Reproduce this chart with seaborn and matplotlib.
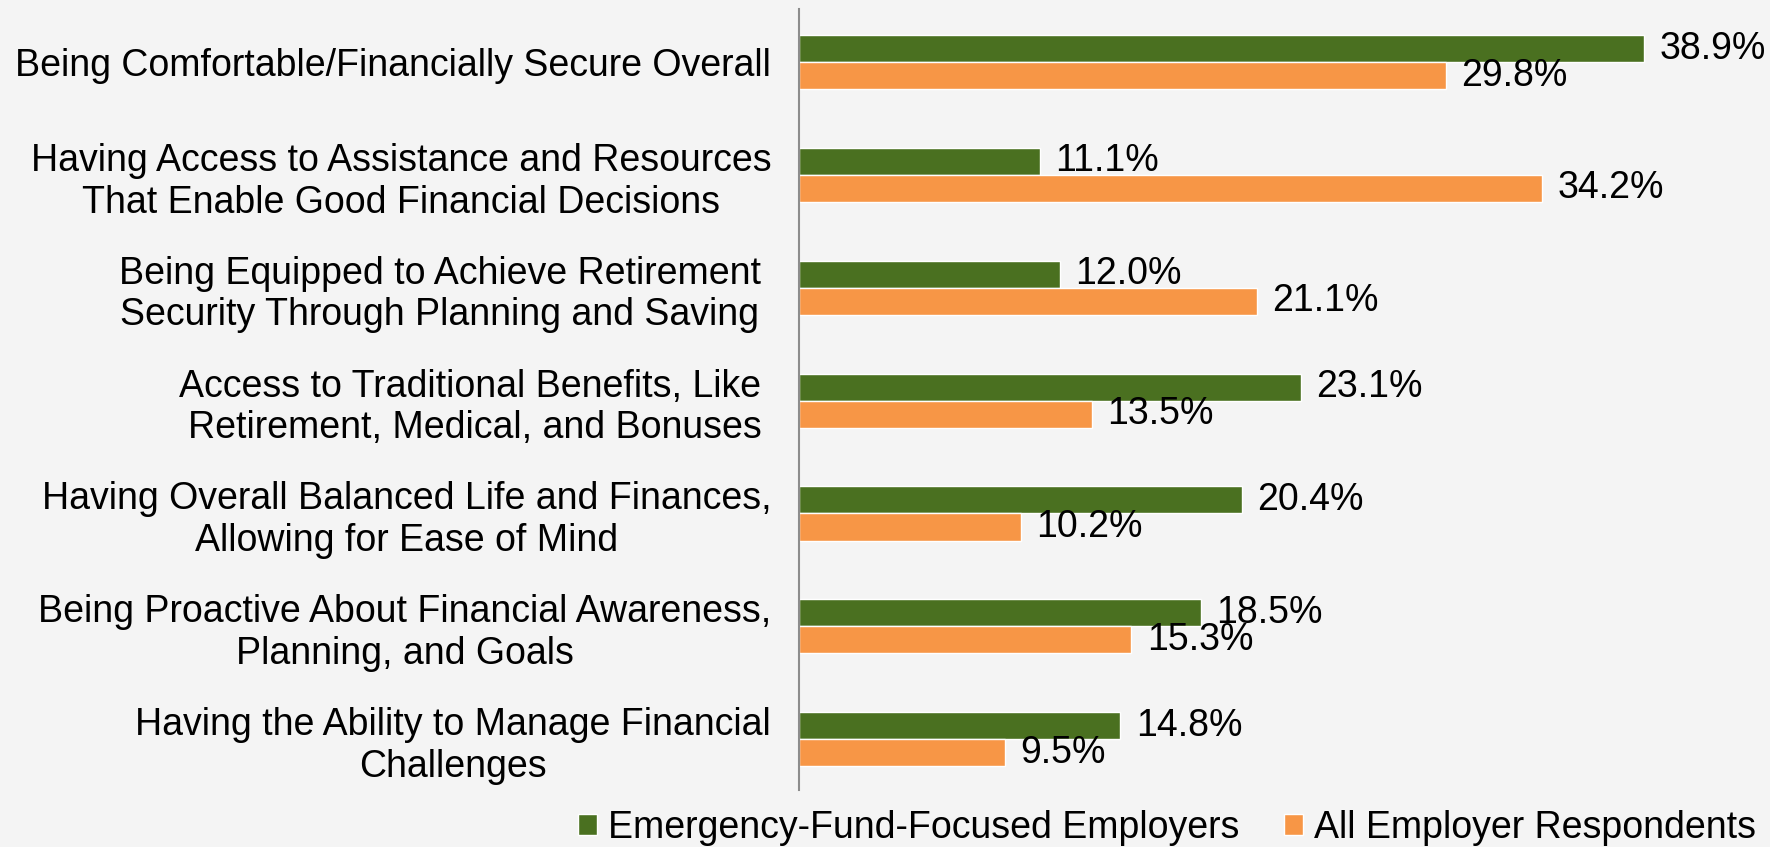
import pandas as pd
import seaborn as sns
import matplotlib.pyplot as plt

categories = [
    "Being Comfortable/Financially Secure Overall",
    "Having Access to Assistance and Resources\nThat Enable Good Financial Decisions",
    "Being Equipped to Achieve Retirement \nSecurity Through Planning and Saving ",
    "Access to Traditional Benefits, Like \nRetirement, Medical, and Bonuses",
    "Having Overall Balanced Life and Finances,\nAllowing for Ease of Mind",
    "Being Proactive About Financial Awareness,\nPlanning, and Goals",
    "Having the Ability to Manage Financial\nChallenges",
]
emergency_focused = [38.9, 11.1, 12.0, 23.1, 20.4, 18.5, 14.8]
all_employers = [29.8, 34.2, 21.1, 13.5, 10.2, 15.3, 9.5]
series_names = ["Emergency-Fund-Focused Employers", "All Employer Respondents"]

green = "#4A7020"
orange = "#F79646"
bg = "#F4F4F4"

df = pd.DataFrame({
    "category": categories * 2,
    "value": emergency_focused + all_employers,
    "group": [series_names[0]] * len(categories) + [series_names[1]] * len(categories),
})

sns.set_style("white")
plt.rcParams['font.family'] = ['Liberation Sans', 'DejaVu Sans']

fig = plt.figure(figsize=(17.7, 8.47), dpi=100, facecolor=bg)
ax = fig.add_axes([799 / 1770, 1 - 790 / 847, 1 - 799 / 1770, 781 / 847])
ax.set_facecolor(bg)

sns.barplot(data=df, y="category", x="value", hue="group", orient="h",
            palette=[green, orange], saturation=1, width=0.48, ax=ax)

for cont in ax.containers:
    ax.bar_label(cont, fmt="%.1f%%", padding=11, fontsize=27, color="black")

ax.set_xlim(0, 44.7)
ax.set_ylim(6.45, -0.47)
ax.set_xlabel("")
ax.set_ylabel("")
ax.set_xticks([])
ax.tick_params(axis="y", length=0, pad=20, labelsize=27, labelcolor="black")
for t in ax.get_yticklabels():
    t.set_multialignment("center")

for s in ["top", "right", "bottom"]:
    ax.spines[s].set_visible(False)
ax.spines["left"].set_color("#8C8C8C")
ax.spines["left"].set_linewidth(1.5)

handles, labels = ax.get_legend_handles_labels()
ax.legend_.remove()
fig.legend(handles, labels, loc="center left", bbox_to_anchor=(578 / 1770, 1 - 828 / 847),
           ncol=2, frameon=False, fontsize=27, labelcolor="black",
           handlelength=0.5, handleheight=0.5,
           handletextpad=0.3, columnspacing=1.2, borderpad=0, borderaxespad=0)

fig.savefig("out.png", dpi=100, facecolor=bg)
